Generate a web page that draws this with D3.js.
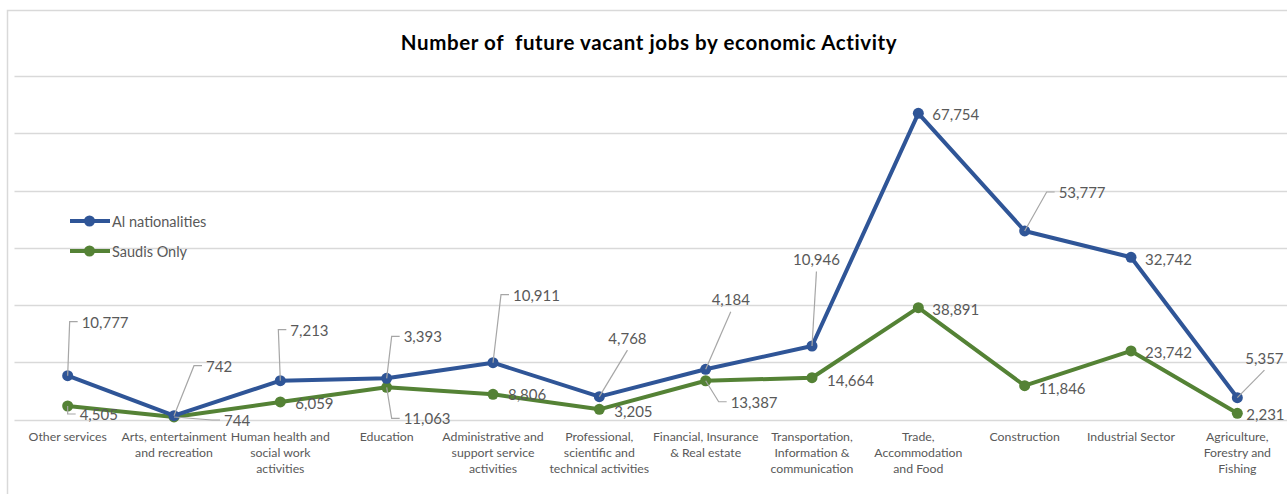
<!DOCTYPE html>
<html>
<head>
<meta charset="utf-8">
<script src="https://cdn.jsdelivr.net/npm/d3@7"></script>
<style>
  html, body { margin: 0; padding: 0; background: #fff; }
  svg { display: block; }
  text { font-family: Lato, "Open Sans", sans-serif; }
</style>
</head>
<body>
<svg id="chart" width="1287" height="494"></svg>
<script>
// ---------- data ----------
const title = "Number of  future vacant jobs by economic Activity";
const categories = [
  "Other services",
  "Arts, entertainment\nand recreation",
  "Human health and\nsocial work\nactivities",
  "Education",
  "Administrative and\nsupport service\nactivities",
  "Professional,\nscientific and\ntechnical activities",
  "Financial, Insurance\n& Real estate",
  "Transportation,\nInformation &\ncommunication",
  "Trade,\nAccommodation\nand Food",
  "Construction",
  "Industrial Sector",
  "Agriculture,\nForestry and\nFishing"
];
const seriesNames = ["Al nationalities", "Saudis Only"];
// plotted values (read from point heights)
const allNationalities = [7650, 660, 6780, 7190, 9920, 3990, 8770, 12840, 53480, 32930, 28330, 3810];
const saudisOnly       = [2360, 440, 3060, 5620, 4400, 1780, 6770, 7300, 19530, 5900, 11970, 1080];
// data-label texts as shown
const allNationalitiesLabels = ["10,777", "742", "7,213", "3,393", "10,911", "4,768", "4,184", "10,946", "67,754", "53,777", "32,742", "5,357"];
const saudisOnlyLabels       = ["4,505", "744", "6,059", "11,063", "8,806", "3,205", "13,387", "14,664", "38,891", "11,846", "23,742", "2,231"];
const yTicks = [0, 10000, 20000, 30000, 40000, 50000, 60000];

// ---------- layout (label placement offsets relative to point) ----------
// [dx, dy, leaderKind]  kind: "" none, "h" elbow leader, "b" leader to label bottom
const blueLabelLayout = [
  [14, -54, "h"], [32, -50, "h"], [10, -51, "h"], [17, -42, "h"], [20, -68, "h"], [9, -59, "b"],
  [6, -70, "b"], [-19, -87, "b"], [14, 1, ""], [34, -39, "h"], [14, 2, ""], [8, -40, "b"]
];
const greenLabelLayout = [
  [12, 8, "h"], [50, 3, "h"], [15, 1, ""], [17, 31, "h"], [15, 0, ""], [15, 2, ""],
  [25, 21, "h"], [15, 2, ""], [14, 1, ""], [14, 2, ""], [14, 1, ""], [9, 1, ""]
];
const colors = ["#2F5597", "#548235"];

const svg = d3.select("#chart");
const plot = { left: 14.5, right: 1290.5, top: 76, bottom: 419.5 };

const x = d3.scaleBand().domain(categories).range([plot.left, plot.right]);
const y = d3.scaleLinear().domain([0, 60000]).range([plot.bottom, plot.top]);
const cx = c => x(c) + x.bandwidth() / 2;

// chart frame
svg.append("path")
  .attr("d", `M7.5,494 V10.5 H1287`)
  .attr("fill", "none").attr("stroke", "#d9d9d9").attr("stroke-width", 1.5);

// title
svg.append("text")
  .attr("x", 649).attr("y", 50)
  .attr("text-anchor", "middle")
  .attr("font-size", 20.5).attr("font-weight", 700).attr("fill", "#000")
  .attr("letter-spacing", 0.6)
  .style("white-space", "pre")
  .text(title);

// gridlines
svg.append("g").selectAll("line").data(yTicks).join("line")
  .attr("x1", plot.left).attr("x2", 1287)
  .attr("y1", d => Math.round(y(d)) + 0.5).attr("y2", d => Math.round(y(d)) + 0.5)
  .attr("stroke", "#d9d9d9").attr("stroke-width", 1.3);

// category labels
const catG = svg.append("g");
categories.forEach(c => {
  const lines = c.split("\n");
  const t = catG.append("text")
    .attr("x", cx(c)).attr("y", 441)
    .attr("text-anchor", "middle")
    .attr("font-size", 12.3).attr("fill", "#595959");
  lines.forEach((ln, i) => {
    t.append("tspan").attr("x", cx(c)).attr("dy", i === 0 ? 0 : 16).text(ln);
  });
});

const series = [
  { name: seriesNames[0], values: allNationalities, labels: allNationalitiesLabels, layout: blueLabelLayout, color: colors[0] },
  { name: seriesNames[1], values: saudisOnly, labels: saudisOnlyLabels, layout: greenLabelLayout, color: colors[1] }
];

const line = d3.line().x((d, i) => cx(categories[i])).y(d => y(d));

// draw green first then blue (blue on top)
[series[1], series[0]].forEach(s => {
  svg.append("path").datum(s.values)
    .attr("d", line)
    .attr("fill", "none").attr("stroke", s.color)
    .attr("stroke-width", 4).attr("stroke-linejoin", "round");
  svg.append("g").selectAll("circle").data(s.values).join("circle")
    .attr("cx", (d, i) => cx(categories[i])).attr("cy", d => y(d))
    .attr("r", 5.5).attr("fill", s.color);
});

// data labels with leaders
const labG = svg.append("g");
const labelFont = 15;
series.forEach(s => {
  s.values.forEach((v, i) => {
    const px = cx(categories[i]), py = y(v);
    const [dx, dy, kind] = s.layout[i];
    const tx = px + dx, ty = py + dy;
    const t = labG.append("text")
      .attr("x", tx).attr("y", ty)
      .attr("dominant-baseline", "central")
      .attr("font-size", labelFont).attr("fill", "#595959")
      .text(s.labels[i]);
    if (kind === "h") {
      const ex = tx - 12;
      labG.append("path")
        .attr("d", `M${px},${py} L${ex},${ty} L${tx - 4},${ty}`)
        .attr("fill", "none").attr("stroke", "#a6a6a6").attr("stroke-width", 1.2);
    } else if (kind === "b") {
      const w = t.node().getComputedTextLength();
      labG.append("path")
        .attr("d", `M${px},${py} L${tx + w / 2},${ty + 12.5}`)
        .attr("fill", "none").attr("stroke", "#a6a6a6").attr("stroke-width", 1.2);
    }
  });
});

// legend
const leg = svg.append("g");
series.forEach((s, i) => {
  const ly = 221 + i * 30;
  leg.append("line").attr("x1", 70).attr("x2", 110).attr("y1", ly).attr("y2", ly)
    .attr("stroke", s.color).attr("stroke-width", 4);
  leg.append("circle").attr("cx", 89.5).attr("cy", ly).attr("r", 5.5).attr("fill", s.color);
  leg.append("text").attr("x", 112).attr("y", ly)
    .attr("dominant-baseline", "central")
    .attr("font-size", 14.5).attr("fill", "#595959").text(s.name);
});
</script>
</body>
</html>
